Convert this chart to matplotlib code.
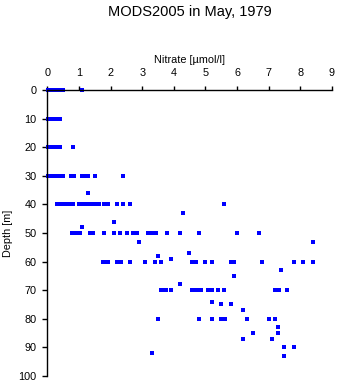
import matplotlib
matplotlib.use("Agg")
import matplotlib.pyplot as plt

plt.rcParams["font.family"] = ["Liberation Sans", "DejaVu Sans"]

# nitrate profile samples, one line per sampled depth
depth = (
    [0] * 7 +
    [10] * 5 +
    [20] * 6 +
    [30] * 13 +
    [36] +
    [40] * 19 +
    [43, 46, 48] +
    [50] * 21 +
    [53, 53, 57, 58, 59] +
    [60] * 20 +
    [63, 65, 68] +
    [70] * 15 +
    [74, 75, 75, 77] +
    [80] * 8 +
    [83, 85, 85, 87, 87, 90, 90, 92, 93]
)
nitrate = (
    [0.02, 0.1, 0.2, 0.3, 0.4, 0.5, 1.1] +
    [0.02, 0.1, 0.2, 0.3, 0.4] +
    [0.02, 0.1, 0.2, 0.3, 0.4, 0.8] +
    [0.02, 0.1, 0.2, 0.3, 0.4, 0.5, 0.75, 0.85, 1.1, 1.2, 1.3, 1.52, 2.4] +
    [1.3] +
    [0.3, 0.4, 0.5, 0.6, 0.7, 0.82, 1.0, 1.1, 1.2, 1.3, 1.4, 1.5, 1.65,
     1.78, 1.92, 2.21, 2.4, 2.61, 5.6] +
    [4.3, 2.11, 1.1] +
    [0.78, 0.85, 0.93, 1.02, 1.35, 1.45, 1.8, 2.11, 2.31, 2.51, 2.72, 2.83,
     3.19, 3.27, 3.35, 3.43, 3.8, 4.2, 4.8, 6.0, 6.7] +
    [2.91, 8.41, 4.48, 3.51, 3.9] +
    [1.77, 1.85, 1.93, 2.19, 2.26, 2.33, 2.61, 3.1, 3.41, 3.6, 4.58, 4.71,
     5.0, 5.2, 5.8, 5.91, 6.8, 7.81, 8.09, 8.41] +
    [7.4, 5.91, 4.2] +
    [3.58, 3.66, 3.74, 3.9, 4.58, 4.67, 4.76, 4.85, 5.09, 5.22, 5.41, 5.6,
     7.2, 7.33, 7.59] +
    [5.2, 5.5, 5.8, 6.2] +
    [3.51, 4.8, 5.2, 5.5, 5.62, 6.3, 7.0, 7.21] +
    [7.3, 6.51, 7.3, 6.2, 7.1, 7.49, 7.81, 3.3, 7.49]
)

xticks = list(range(0, 10))
yticks = list(range(0, 101, 10))

fig = plt.figure(figsize=(3.38, 3.84), dpi=100)
ax = fig.add_axes([0.1399, 0.0216, 0.8423, 0.7432])

ax.plot(nitrate, depth, linestyle="none", marker="s", markersize=2.2,
        markeredgewidth=0, color="#0000ff", clip_on=False)

ax.set_xlim(0, 9)
ax.set_ylim(100, 0)
ax.set_xticks(xticks)
ax.set_yticks(yticks)

ax.xaxis.set_ticks_position("top")
ax.xaxis.set_label_position("top")
ax.spines["bottom"].set_visible(False)
ax.spines["right"].set_visible(False)
for s in ("top", "left"):
    ax.spines[s].set_linewidth(1.0)

ax.tick_params(axis="x", direction="out", length=3.2, width=1.0,
               pad=5.5, labelsize=7.8)
ax.tick_params(axis="y", direction="out", length=3.6, width=1.0,
               pad=4, labelsize=7.8)

ax.set_xlabel("Nitrate [\u00b5mol/l]", fontsize=7.8, labelpad=4)
ax.set_ylabel("Depth [m]", fontsize=7.8, labelpad=4)

fig.text(0.562, 0.968, "MODS2005 in May, 1979", ha="center", va="center",
         fontsize=10.5)

fig.savefig("out.png", dpi=100)
